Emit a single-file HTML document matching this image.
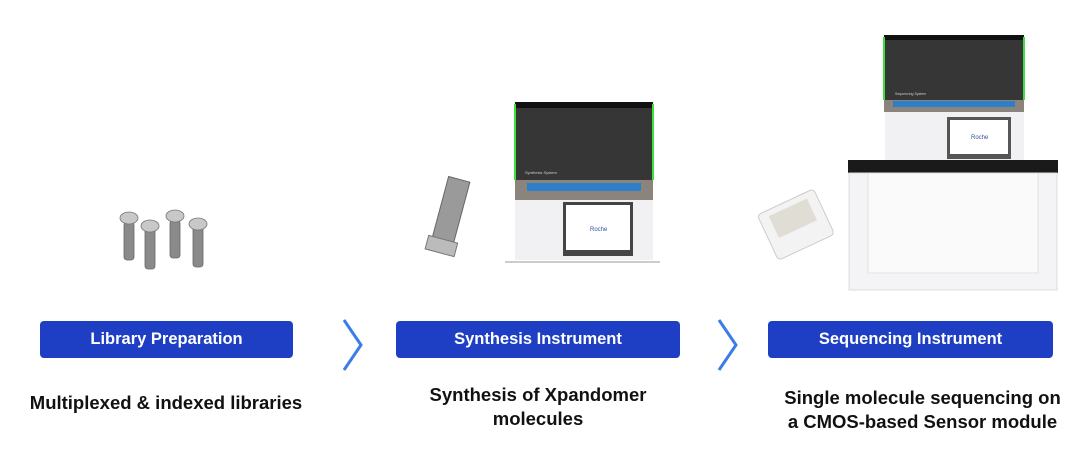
<!DOCTYPE html>
<html><head><style>
body{margin:0;width:1080px;height:452px;background:#fff;position:relative;overflow:hidden;font-family:"Liberation Sans",sans-serif}
.a{position:absolute}
.btn{position:absolute;background:#1e3fc4;color:#fff;font-weight:bold;font-size:16.5px;text-align:center;border-radius:4px;height:37px;line-height:37px;top:321px}
.cap{position:absolute;font-weight:bold;font-size:18.5px;color:#111;text-align:center;line-height:24px}
</style></head><body>
<svg class="a" style="left:0;top:0" width="1080" height="452">
<!-- tubes -->
<g fill="#8a8a8a" stroke="#666" stroke-width="0.8">
<rect x="124" y="222" width="10" height="38" rx="3"/><rect x="145" y="227" width="10" height="42" rx="3"/>
<rect x="170" y="220" width="10" height="38" rx="3"/><rect x="193" y="225" width="10" height="42" rx="3"/>
</g>
<g fill="#c8c8c8" stroke="#777" stroke-width="0.8">
<ellipse cx="129" cy="218" rx="9" ry="6"/><ellipse cx="150" cy="226" rx="9" ry="6"/>
<ellipse cx="175" cy="216" rx="9" ry="6"/><ellipse cx="198" cy="224" rx="9" ry="6"/>
</g>
<!-- chevrons -->
<polyline points="344,320 361,345 344,370" fill="none" stroke="#3b7de8" stroke-width="3"/>
<polyline points="719,320 736,345 719,370" fill="none" stroke="#3b7de8" stroke-width="3"/>
<!-- synthesis cartridge -->
<g transform="rotate(15 450 210)">
<rect x="440" y="178" width="22" height="70" fill="#9a9a9a" stroke="#666"/>
<rect x="436" y="240" width="30" height="14" fill="#bbb" stroke="#777"/>
</g>
<!-- synthesis instrument -->
<rect x="515" y="102" width="138" height="78" fill="#363636"/>
<rect x="515" y="102" width="138" height="6" fill="#111"/>
<rect x="514" y="104" width="2" height="76" fill="#3de03d"/><rect x="652" y="104" width="2" height="76" fill="#3de03d"/>
<text x="525" y="174" font-size="4" fill="#ccc">Synthesis System</text>
<path d="M515 180 H653 V200 H515Z" fill="#8a847c"/>
<rect x="527" y="183" width="114" height="8" fill="#2f7fc8"/>
<rect x="515" y="200" width="138" height="60" fill="#f1f1f3"/>
<rect x="563" y="202" width="70" height="54" fill="#444"/>
<rect x="566" y="205" width="64" height="45" fill="#fff"/>
<text x="590" y="231" font-size="6" fill="#3050a0">Roche</text>
<line x1="505" y1="262" x2="660" y2="262" stroke="#999"/>
<!-- sequencing instrument -->
<rect x="884" y="35" width="140" height="65" fill="#363636"/>
<rect x="884" y="35" width="140" height="5" fill="#111"/>
<rect x="883" y="37" width="2" height="63" fill="#3de03d"/><rect x="1023" y="37" width="2" height="63" fill="#3de03d"/>
<text x="895" y="95" font-size="3.5" fill="#ccc">Sequencing System</text>
<rect x="884" y="100" width="140" height="12" fill="#8a847c"/>
<rect x="893" y="101" width="122" height="6" fill="#2f7fc8"/>
<rect x="885" y="112" width="139" height="48" fill="#f1f1f3"/>
<rect x="947" y="117" width="64" height="42" fill="#555"/>
<rect x="950" y="120" width="58" height="34" fill="#fff"/>
<text x="971" y="139" font-size="6" fill="#3050a0">Roche</text>
<rect x="848" y="160" width="210" height="13" fill="#1a1a1a"/>
<rect x="849" y="173" width="208" height="117" fill="#f4f4f6" stroke="#ddd"/>
<rect x="868" y="173" width="170" height="100" fill="#fafafa" stroke="#e2e2e2"/>
<!-- sensor cartridge -->
<g transform="rotate(-25 795 225)">
<rect x="765" y="200" width="62" height="50" rx="4" fill="#f3f3f3" stroke="#ccc"/>
<rect x="775" y="206" width="42" height="24" fill="#e0ddd4"/>
</g>
</svg>
<div class="btn" style="left:40px;width:253px">Library Preparation</div>
<div class="btn" style="left:396px;width:284px">Synthesis Instrument</div>
<div class="btn" style="left:768px;width:285px">Sequencing Instrument</div>
<div class="cap" style="left:0;width:332px;top:391px">Multiplexed &amp; indexed libraries</div>
<div class="cap" style="left:396px;width:284px;top:383px">Synthesis of Xpandomer<br>molecules</div>
<div class="cap" style="left:755px;width:335px;top:386px">Single molecule sequencing on<br>a CMOS-based Sensor module</div>
</body></html>
